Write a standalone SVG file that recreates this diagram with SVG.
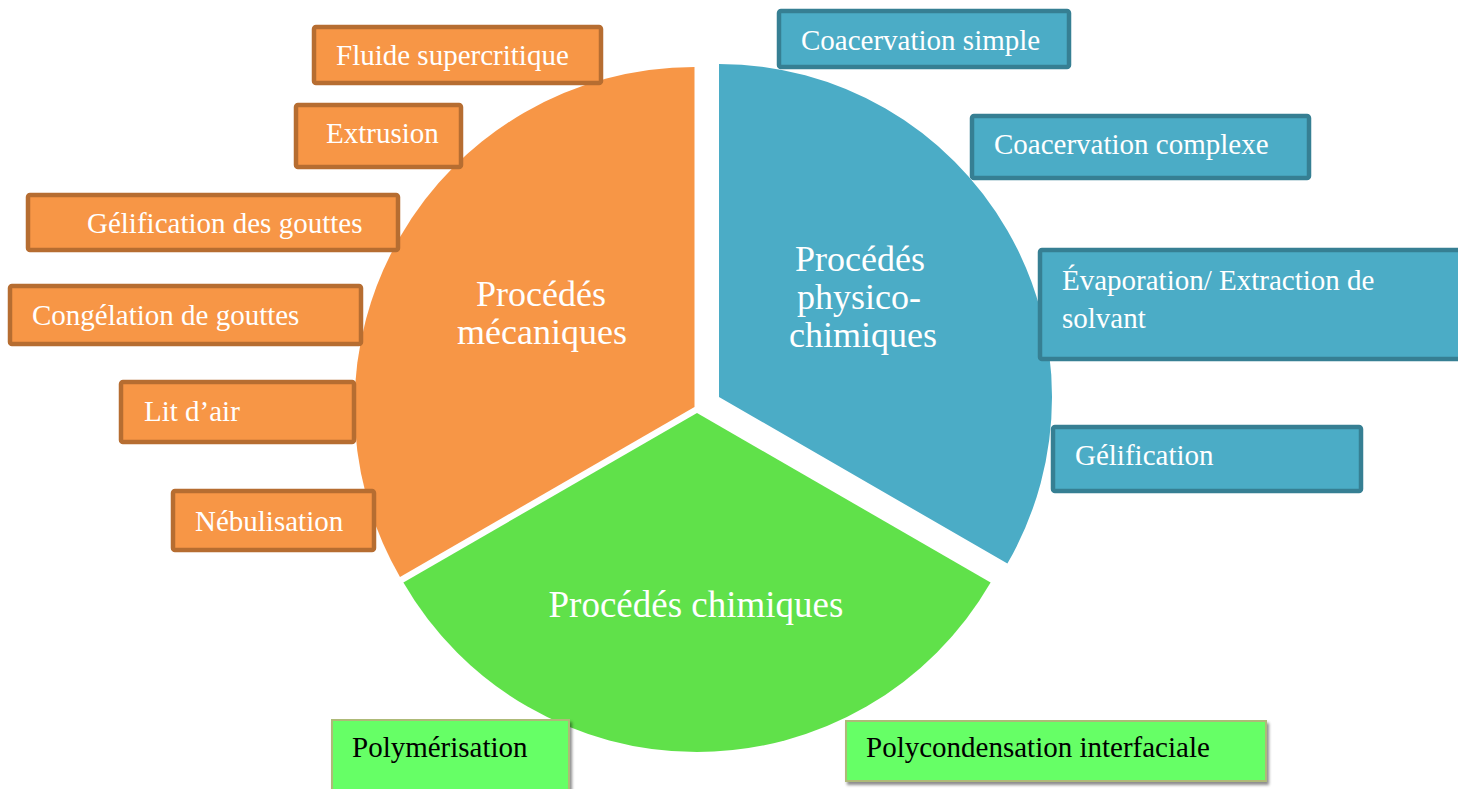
<svg xmlns="http://www.w3.org/2000/svg" width="1458" height="789" viewBox="0 0 1458 789">
  <defs>
    <filter id="shadow" x="-5%" y="-20%" width="115%" height="150%">
      <feDropShadow dx="2" dy="3" stdDeviation="1.8" flood-color="#000" flood-opacity="0.45"/>
    </filter>
    <style>
      .t { font-family: "Liberation Serif", "Times New Roman", serif; }
      .box-o { fill: #F79646; stroke: #B66D31; stroke-width: 4.5; }
      .box-b { fill: #4BACC6; stroke: #367F93; stroke-width: 4.5; }
      .box-g { fill: #66FF66; stroke: #AEBA78; stroke-width: 2; filter: url(#shadow); }
      .lbl-w { font-size: 29px; fill: #FFFFFF; }
      .lbl-k { font-size: 29px; fill: #000000; }
      .ctr { font-size: 36px; fill: #FFFFFF; text-anchor: middle; }
      .ctr2 { font-size: 37px; fill: #FFFFFF; text-anchor: middle; }
    </style>
  </defs>
  <rect width="1458" height="789" fill="#FFFFFF"/>

  <g id="pie">
    <g id="sector-mecaniques">
      <path d="M694.5,407 L694.5,67 A340,340 0 0,0 400,577 Z" fill="#F79646"/>
      <text class="t ctr" x="541" y="306">Procédés</text>
      <text class="t ctr" x="542" y="344">mécaniques</text>
    </g>
    <g id="sector-physico">
      <path d="M719,397 L719,64 A333,333 0 0,1 1007.4,563.5 Z" fill="#4BACC6"/>
      <text class="t ctr" x="860" y="271">Procédés</text>
      <text class="t ctr" x="859" y="309">physico-</text>
      <text class="t ctr" x="863" y="347">chimiques</text>
    </g>
    <g id="sector-chimiques">
      <path d="M697,413 L990.6,582.5 A339,339 0 0,1 403.4,582.5 Z" fill="#60E14A"/>
      <text class="t ctr2" x="696" y="617">Procédés chimiques</text>
    </g>
  </g>

  <g id="connectors"></g>

  <g id="node-fluide">
    <rect class="box-o" x="314" y="27" width="287" height="56" rx="2"/>
    <text class="t lbl-w" x="336" y="65">Fluide supercritique</text>
  </g>
  <g id="node-extrusion">
    <rect class="box-o" x="296" y="105" width="165" height="62" rx="2"/>
    <text class="t lbl-w" x="326" y="143">Extrusion</text>
  </g>
  <g id="node-gelification-gouttes">
    <rect class="box-o" x="28" y="195" width="370" height="55" rx="2"/>
    <text class="t lbl-w" x="87" y="233">Gélification des gouttes</text>
  </g>
  <g id="node-congelation">
    <rect class="box-o" x="10" y="286" width="351" height="58" rx="2"/>
    <text class="t lbl-w" x="32" y="325">Congélation de gouttes</text>
  </g>
  <g id="node-lit-air">
    <rect class="box-o" x="121" y="382" width="233" height="60" rx="2"/>
    <text class="t lbl-w" x="144" y="421">Lit d’air</text>
  </g>
  <g id="node-nebulisation">
    <rect class="box-o" x="173" y="491" width="201" height="59" rx="2"/>
    <text class="t lbl-w" x="195" y="531">Nébulisation</text>
  </g>

  <g id="node-coacervation-simple">
    <rect class="box-b" x="779" y="11" width="290" height="56" rx="2"/>
    <text class="t lbl-w" x="801" y="50">Coacervation simple</text>
  </g>
  <g id="node-coacervation-complexe">
    <rect class="box-b" x="972" y="116" width="337" height="62" rx="2"/>
    <text class="t lbl-w" x="994" y="154">Coacervation complexe</text>
  </g>
  <g id="node-evaporation">
    <rect class="box-b" x="1040" y="250" width="430" height="109" rx="2"/>
    <text class="t lbl-w" x="1062" y="290">Évaporation/ Extraction de</text>
    <text class="t lbl-w" x="1062" y="328">solvant</text>
  </g>
  <g id="node-gelification">
    <rect class="box-b" x="1053" y="427" width="308" height="64" rx="2"/>
    <text class="t lbl-w" x="1075" y="465">Gélification</text>
  </g>

  <g id="node-polymerisation">
    <rect class="box-g" x="332" y="720" width="237" height="82"/>
    <text class="t lbl-k" x="352" y="757">Polymérisation</text>
  </g>
  <g id="node-polycondensation">
    <rect class="box-g" x="846" y="721" width="420" height="60"/>
    <text class="t lbl-k" x="866" y="757">Polycondensation interfaciale</text>
  </g>
</svg>
